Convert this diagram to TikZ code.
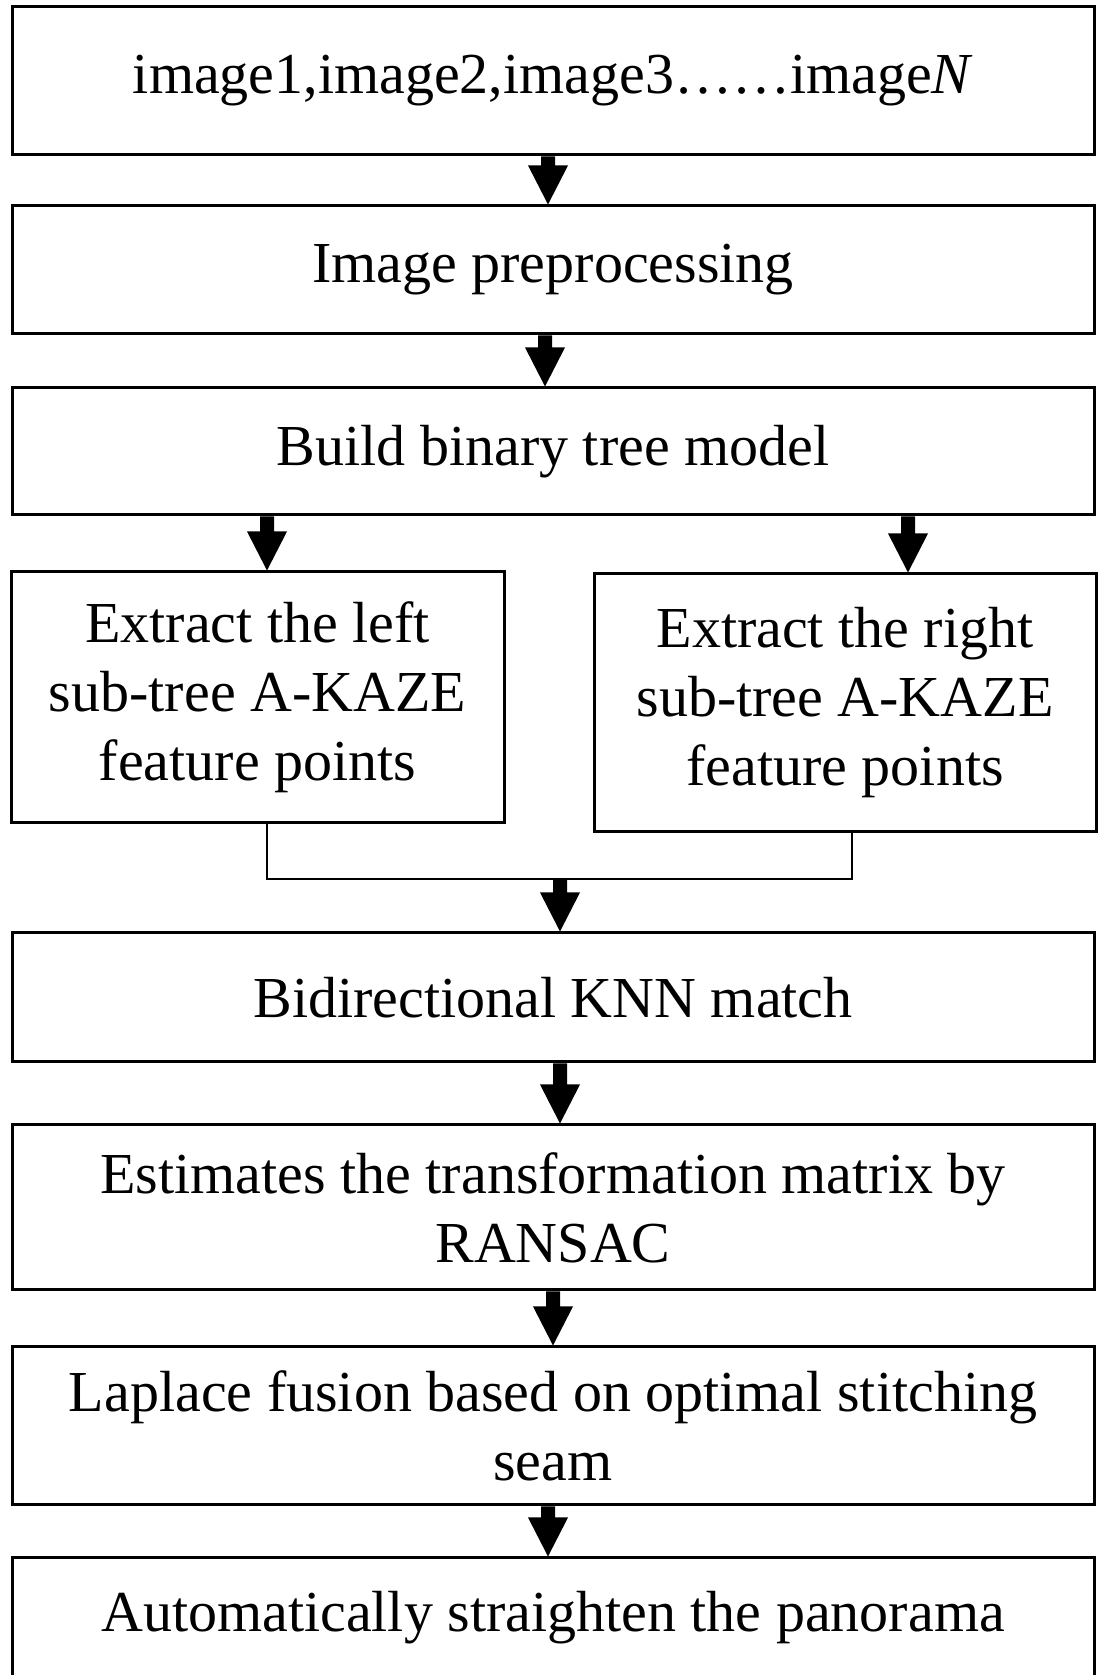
\documentclass[tikz,border=0pt]{standalone}
\usepackage{fontspec}
\setmainfont{Liberation Serif}
\usetikzlibrary{calc}
\newcommand{\flowarrow}[2]{%
  \fill[headfill] ($(#1)+(-7,0)$) -- ($(#1)+(7,0)$) -- ($(#2)+(7,39)$) -- ($(#2)+(20,39)$)
    -- (#2) -- ($(#2)+(-20,39)$) -- ($(#2)+(-7,39)$) -- cycle;}
\begin{document}
\begin{tikzpicture}[x=1pt,y=1pt,
  box/.style={draw, line width=3pt, rectangle, inner sep=0pt, align=center,
              font=\fontsize{58}{69}\selectfont},
  link/.style={line width=2pt},
  headfill/.style={fill=black}]
\useasboundingbox (0,0) rectangle (1100,1675);
\clip (0,0) rectangle (1100,1675);

\node[box, minimum width=1082pt, minimum height=148pt] (b1) at (553,1594)
  {image1,image2,image3……image\textit{N}};
\node[box, minimum width=1082pt, minimum height=128pt] (b2) at (553,1405)
  {Image preprocessing};
\node[box, minimum width=1082pt, minimum height=127pt] (b3) at (553,1223.5)
  {Build binary tree model};
\node[box, minimum width=493pt, minimum height=251pt] (bl) at (257.5,977.5)
  {Extract the left\\sub-tree A-KAZE\\feature points};
\node[box, minimum width=502pt, minimum height=258pt] (br) at (845,972)
  {Extract the right\\sub-tree A-KAZE\\feature points};
\node[box, minimum width=1082pt, minimum height=129pt] (b4) at (553,677.5)
  {Bidirectional KNN match};
\node[box, minimum width=1082pt, minimum height=165pt] (b5) at (553,467.5)
  {Estimates the transformation matrix by\\RANSAC};
\node[box, minimum width=1082pt, minimum height=158pt] (b6) at (553,249)
  {Laplace fusion based on optimal stitching\\seam};
\node[box, minimum width=1082pt, minimum height=120pt] (b7) at (553,57)
  {Automatically straighten the panorama};

% arrows
\coordinate (a1s) at ([xshift=-5pt]b1.south);   \coordinate (a1e) at (a1s |- b2.north);
\coordinate (a2s) at ([xshift=-8pt]b2.south);   \coordinate (a2e) at (a2s |- b3.north);
\coordinate (a3s) at ([xshift=-286pt]b3.south); \coordinate (a3e) at (a3s |- bl.north);
\coordinate (a4s) at ([xshift=355pt]b3.south);  \coordinate (a4e) at (a4s |- br.north);
\coordinate (jl) at ([xshift=9.5pt]bl.south);
\coordinate (jr) at ([xshift=7pt]br.south);
\coordinate (jn) at (560,796);
\coordinate (a5e) at (jn |- b4.north);
\coordinate (a6s) at ([xshift=7pt]b4.south);    \coordinate (a6e) at (a6s |- b5.north);
\coordinate (a7s) at (b5.south);                \coordinate (a7e) at (a7s |- b6.north);
\coordinate (a8s) at ([xshift=-5pt]b6.south);   \coordinate (a8e) at (a8s |- b7.north);

\flowarrow{a1s}{a1e}
\flowarrow{a2s}{a2e}
\flowarrow{a3s}{a3e}
\flowarrow{a4s}{a4e}
\draw[link] (jl) |- (jn) -| (jr);
\flowarrow{jn}{a5e}
\flowarrow{a6s}{a6e}
\flowarrow{a7s}{a7e}
\flowarrow{a8s}{a8e}
\end{tikzpicture}
\end{document}
